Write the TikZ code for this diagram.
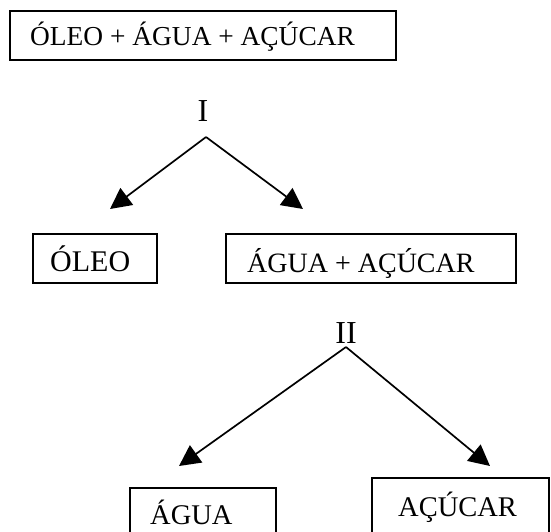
\documentclass[tikz,border=0pt]{standalone}
\usepackage{fontspec}
\setmainfont{Liberation Serif}
\usetikzlibrary{arrows.meta}
\begin{document}
\begin{tikzpicture}[x=1pt,y=-1pt,
  box/.style={draw,line width=1.7pt,inner sep=0pt,anchor=north west},
  lbl/.style={inner sep=0pt,anchor=base west,font=\fontsize{28}{32}\selectfont},
  roman/.style={inner sep=0pt,anchor=base,font=\fontsize{32}{36}\selectfont},
  arr/.style={line width=1.7pt,-{Triangle[length=21pt,width=21pt]}}]
\useasboundingbox (0,0) rectangle (551,531);
\begin{scope}
\clip (0,0) rectangle (551,531);
\node[box,minimum width=386pt,minimum height=49pt] (b0) at (9,10) {};
\node[box,minimum width=124pt,minimum height=49pt] (b1) at (32,233) {};
\node[box,minimum width=290pt,minimum height=49pt] (b2) at (225,233) {};
\node[box,minimum width=146pt,minimum height=60pt] (b3) at (129,487) {};
\node[box,minimum width=177pt,minimum height=70pt] (b4) at (371,477) {};
\end{scope}
\node[lbl,font=\fontsize{27.4}{32}\selectfont] (t0) at (30,45) {ÓLEO + ÁGUA + AÇÚCAR};
\node[lbl,font=\fontsize{30}{34}\selectfont] (t1) at (50,271) {ÓLEO};
\node[lbl] (t2) at (247,272) {ÁGUA + AÇÚCAR};
\node[lbl,font=\fontsize{28.5}{32}\selectfont] (t3) at (150,524) {ÁGUA};
\node[lbl,font=\fontsize{28.5}{32}\selectfont] (t4) at (398,516) {AÇÚCAR};
\node[roman] (r1) at (203,121) {I};
\node[roman] (r2) at (346,343) {II};
\coordinate (p1) at (206,137);
\coordinate (p2) at (346,347);
\coordinate (a1) at (110,209);
\coordinate (a2) at (303,209);
\coordinate (a3) at (179,466);
\coordinate (a4) at (490,466);
\draw[arr] (p1) -- (a1);
\draw[arr] (p1) -- (a2);
\draw[arr] (p2) -- (a3);
\draw[arr] (p2) -- (a4);
\end{tikzpicture}
\end{document}
